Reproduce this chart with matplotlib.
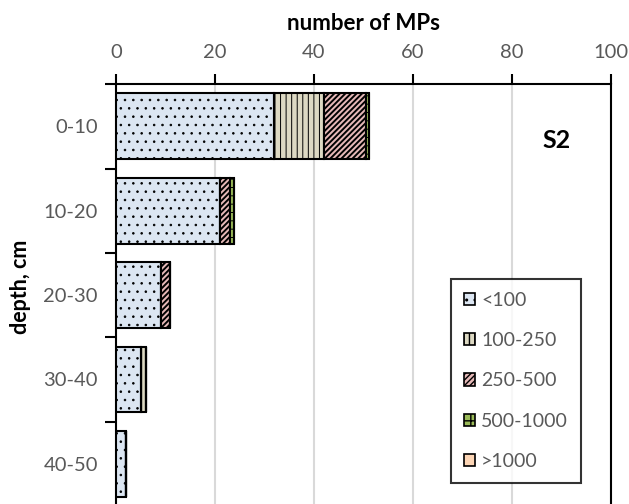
import numpy as np
import matplotlib.pyplot as plt

plt.rcParams['font.family'] = ['Lato', 'DejaVu Sans']

depths = ['0-10', '10-20', '20-30', '30-40', '40-50']
sizes = ['<100', '100-250', '250-500', '500-1000', '>1000']
lt100 = [32, 21, 9, 5, 2]
s100_250 = [10, 0, 0, 1, 0]
s250_500 = [8.5, 2.1, 2, 0, 0]
s500_1000 = [0.6, 0.8, 0, 0, 0]
gt1000 = [0, 0, 0, 0, 0]

series = [lt100, s100_250, s250_500, s500_1000, gt1000]
colors = ['#DCE6F2', '#DDD9C3', '#E6B9B8', '#9BBB59', '#FCD5B5']
hatches = ['..', '|||', '//////', '++', '']
hatch_lw = [0.6, 0.7, 1.4, 0.7, 0.7]

fig = plt.figure(figsize=(6.29, 5.04), dpi=100)
ax = fig.add_axes([116/629, -0.004, 495/629, 0.837])

y = np.arange(len(depths))
left = np.zeros(len(depths))
for vals, c, h, hl, lab in zip(series, colors, hatches, hatch_lw, sizes):
    with plt.rc_context({'hatch.linewidth': hl}):
        ax.barh(y, vals, left=left, height=0.78, color=c, edgecolor='black',
                linewidth=1.5, hatch=h, label=lab, zorder=3)
    left += np.array(vals)

ax.set_xlim(0, 100)
ax.set_ylim(len(depths) - 0.5, -0.5)
ax.set_xticks(range(0, 101, 20))
ax.xaxis.tick_top()
ax.xaxis.set_label_position('top')
ax.set_yticks(y)
ax.set_yticklabels(depths)
ax.set_yticks(np.arange(-0.5, len(depths)), minor=True)
ax.tick_params(axis='y', which='major', length=0, pad=13)
ax.tick_params(axis='y', which='minor', length=8, width=1.5, direction='out')
ax.tick_params(axis='x', length=7, width=1.5, direction='out', pad=10)
ax.tick_params(labelsize=14.5, labelcolor='#595959')
ax.grid(axis='x', color='#D9D9D9', linewidth=1.5, zorder=0)
for s in ax.spines.values():
    s.set_linewidth(1.5)
    s.set_color('black')

ax.set_xlabel('number of MPs', fontsize=16, fontweight='bold', labelpad=10)
ax.set_ylabel('depth, cm', fontsize=15.5, fontweight='bold')
ax.yaxis.set_label_coords(-0.172, 0.52)
ax.text(0.889, 0.866, 'S2', transform=ax.transAxes, fontsize=18,
        fontweight='bold', ha='center', va='center')

leg = ax.legend(loc='upper left', bbox_to_anchor=(451/629, 1 - 279/504),
                bbox_transform=fig.transFigure, fontsize=14,
                labelcolor='#595959', frameon=True, fancybox=False,
                edgecolor='black', handlelength=0.6, handleheight=0.6,
                handletextpad=0.3, labelspacing=1.2, borderpad=0.65,
                borderaxespad=0)
leg.get_frame().set_linewidth(1.5)
for p in leg.get_patches():
    p.set_linewidth(1.2)

fig.savefig('out.png', dpi=100)
